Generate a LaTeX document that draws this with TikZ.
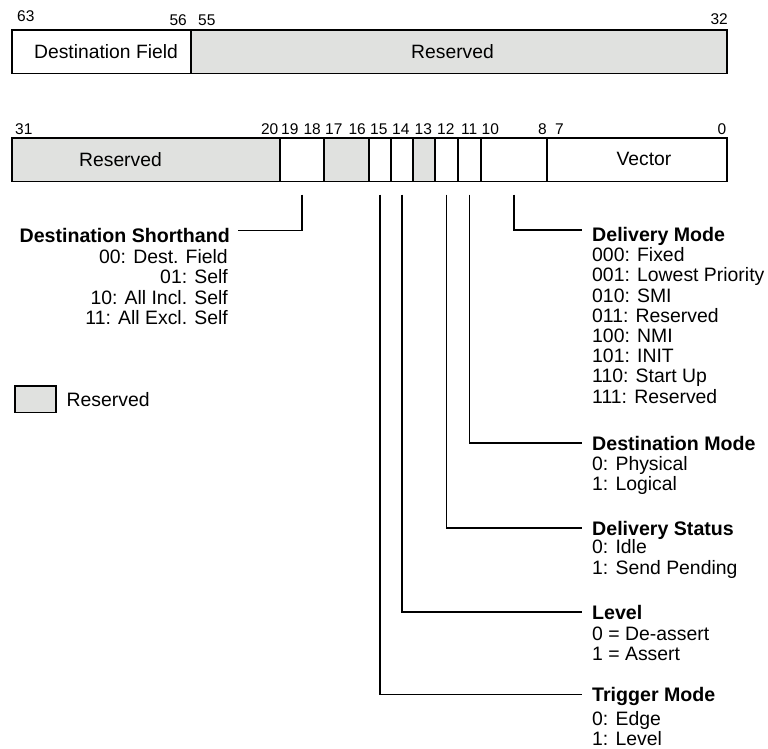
\documentclass[tikz,border=0pt]{standalone}
\usepackage{fontspec}
\setmainfont{Liberation Sans}
\definecolor{resgray}{RGB}{224,225,223}
\begin{document}
\begin{tikzpicture}[x=1pt,y=-1pt,
  reg/.style={draw=black, line width=1.8pt, inner sep=0pt, outer sep=0pt,
              anchor=north west, minimum height=43.5pt},
  rsv/.style={reg, fill=resgray},
  bitnum/.style={inner sep=0pt, font=\fontsize{15.5}{15.5}\selectfont},
  boxtext/.style={inner sep=0pt, anchor=base, font=\fontsize{19.3}{20}\selectfont},
  ftitle/.style={inner sep=0pt, font=\fontsize{19.6}{20}\selectfont\bfseries,
                 text height=14pt, text depth=0pt},
  fval/.style={inner sep=0pt, font=\fontsize{19.4}{20}\selectfont},
  lead/.style={draw=black, line width=1.7pt},
]
\useasboundingbox (0,0) rectangle (768,749);

% ---- upper dword: bits 63..32
\node[reg, minimum width=179pt] (dfield) at (12,30) {};
\node[rsv, minimum width=536pt] (hires) at (191,30) {};
\node[boxtext] (dftxt) at (106,58.3) {Destination Field};
\node[boxtext] (hrtxt) at (452.5,59) {Reserved};

\node[bitnum, anchor=base west] (n63) at (17,22) {63};
\node[bitnum, anchor=base east] (n56) at (187,26) {56};
\node[bitnum, anchor=base west] (n55) at (198,26) {55};
\node[bitnum, anchor=base east] (n32) at (728,25) {32};

% ---- lower dword: bits 31..0
\node[rsv, minimum width=268pt] (r3120) at (12,138) {};
\node[reg, minimum width=44pt]  (dsh)   at (280,138) {};
\node[rsv, minimum width=45pt]  (r1716) at (324,138) {};
\node[reg, minimum width=22pt]  (tm)    at (369,138) {};
\node[reg, minimum width=22pt]  (lv)    at (391,138) {};
\node[rsv, minimum width=22pt]  (r13)   at (413,138) {};
\node[reg, minimum width=23pt]  (ds)    at (435,138) {};
\node[reg, minimum width=23pt]  (dstm)  at (458,138) {};
\node[reg, minimum width=66pt]  (dlm)   at (481,138) {};
\node[reg, minimum width=180pt] (vec)   at (547,138) {};
\node[boxtext] (lrtxt) at (120.5,166.7) {Reserved};
\node[boxtext] (vectxt) at (644,165) {Vector};

\node[bitnum, anchor=base west] (n31) at (15,135) {31};
\node[bitnum, anchor=base east] (n20) at (278.5,135) {20};
\node[bitnum, anchor=base west] (n19) at (281,135) {19};
\node[bitnum, anchor=base east] (n18) at (321,135) {18};
\node[bitnum, anchor=base west] (n17) at (325,135) {17};
\node[bitnum, anchor=base east] (n16) at (366,135) {16};
\node[bitnum, anchor=base west] (n15) at (370,135) {15};
\node[bitnum, anchor=base west] (n14) at (392,135) {14};
\node[bitnum, anchor=base west] (n13) at (414.5,135) {13};
\node[bitnum, anchor=base west] (n12) at (437,135) {12};
\node[bitnum, anchor=base west] (n11) at (461,135) {11};
\node[bitnum, anchor=base west] (n10) at (481.5,135) {10};
\node[bitnum, anchor=base east] (n8)  at (547,135) {8};
\node[bitnum, anchor=base west] (n7)  at (555,135) {7};
\node[bitnum, anchor=base east] (n0)  at (726.5,135) {0};

% ---- Destination Shorthand (left side)
\node[ftitle, anchor=base east] (dshT) at (230,242) {Destination Shorthand};
\foreach \t [count=\i] in {00: Dest. Field, 01: Self, 10: All Incl. Self, 11: All Excl. Self}
  \node[fval, anchor=base east] (dshV\i) at (228,242.5+20.6*\i) {\t};
\draw[lead] ([yshift=-13pt]dsh.south) |- ([shift={(8pt,4.5pt)}]dshT.east);

% ---- Delivery Mode
\node[ftitle, anchor=base west] (dlmT) at (592,241.5) {Delivery Mode};
\foreach \t [count=\i] in {000: Fixed, 001: Lowest Priority, 010: SMI, 011: Reserved,
                           100: NMI, 101: INIT, 110: Start Up, 111: Reserved}
  \node[fval, anchor=base west] (dlmV\i) at (592,241.5+20.2*\i) {\t};
\draw[lead] ([yshift=-13pt]dlm.south) |- ([shift={(-10pt,4.5pt)}]dlmT.west);

% ---- Destination Mode
\node[ftitle, anchor=base west] (dstmT) at (592,450) {Destination Mode};
\node[fval, anchor=base west] (dstmV1) at (592,470) {0: Physical};
\node[fval, anchor=base west] (dstmV2) at (592,490) {1: Logical};
\draw[lead] ([yshift=-13pt]dstm.south) |- ([xshift=-10pt]dstmT.west);

% ---- Delivery Status
\node[ftitle, anchor=base west] (dsT) at (592,535) {Delivery Status};
\node[fval, anchor=base west] (dsV1) at (592,553.5) {0: Idle};
\node[fval, anchor=base west] (dsV2) at (592,574) {1: Send Pending};
\draw[lead] ([yshift=-13pt]ds.south) |- ([xshift=-10pt]dsT.west);

% ---- Level
\node[ftitle, anchor=base west] (lvT) at (592,619) {Level};
\node[fval, anchor=base west] (lvV1) at (592,640) {0 = De-assert};
\node[fval, anchor=base west] (lvV2) at (592,660) {1 = Assert};
\draw[lead] ([yshift=-13pt]lv.south) |- ([xshift=-10pt]lvT.west);

% ---- Trigger Mode
\node[ftitle, anchor=base west] (tmT) at (592,701.5) {Trigger Mode};
\node[fval, anchor=base west] (tmV1) at (592,725.5) {0: Edge};
\node[fval, anchor=base west] (tmV2) at (592,745) {1: Level};
\draw[lead] ([yshift=-13pt]tm.south) |- ([xshift=-10pt]tmT.west);

% ---- legend
\node[draw=black, line width=1.8pt, fill=resgray, inner sep=0pt, outer sep=0pt,
      minimum width=41pt, minimum height=26.5pt, anchor=north west] (key) at (15,386) {};
\node[fval, anchor=base west] (keyT) at (66.5,406.7) {Reserved};
\end{tikzpicture}
\end{document}
